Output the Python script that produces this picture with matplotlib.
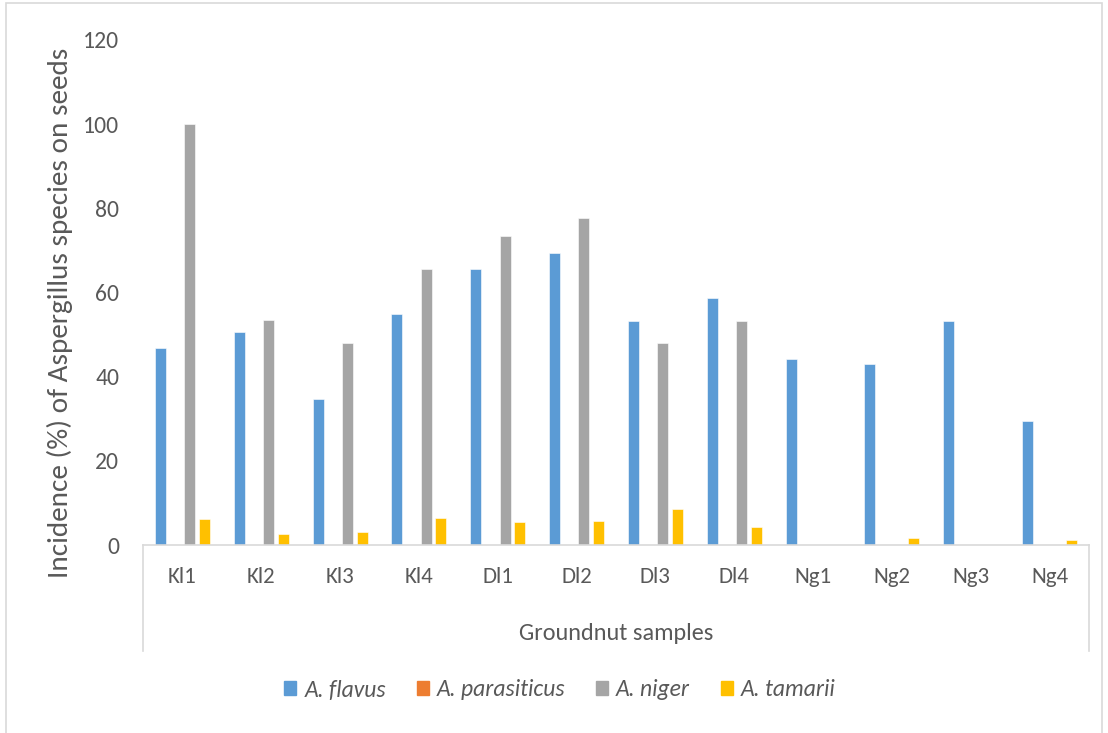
import numpy as np
import matplotlib
matplotlib.use("Agg")
import matplotlib.pyplot as plt
from matplotlib import font_manager
from matplotlib.lines import Line2D
from matplotlib.patches import Rectangle

# pick a Calibri-like family if available
available = {f.name for f in font_manager.fontManager.ttflist}
family = "DejaVu Sans"
for cand in ["Carlito", "Liberation Sans Narrow", "Lato", "Open Sans", "Liberation Sans"]:
    if cand in available:
        family = cand
        break
plt.rcParams["font.family"] = [family, "DejaVu Sans"]

samples = ["Kl1", "Kl2", "Kl3", "Kl4", "Dl1", "Dl2", "Dl3", "Dl4", "Ng1", "Ng2", "Ng3", "Ng4"]
a_flavus = [46.7, 50.7, 34.7, 55.0, 65.5, 69.4, 53.3, 58.7, 44.3, 43.0, 53.3, 29.5]
a_parasiticus = [0, 0, 0, 0, 0, 0, 0, 0, 0, 0, 0, 0]
a_niger = [100.0, 53.5, 48.0, 65.5, 73.5, 77.6, 48.0, 53.3, 0, 0, 0, 0]
a_tamarii = [6.1, 2.6, 3.2, 6.4, 5.4, 5.7, 8.5, 4.3, 0, 1.6, 0, 1.2]

series_names = ["A. flavus", "A. parasiticus", "A. niger", "A. tamarii"]
series_values = [a_flavus, a_parasiticus, a_niger, a_tamarii]
colors = ["#5B9BD5", "#ED7D31", "#A5A5A5", "#FFC000"]
text_color = "#595959"
line_color = "#D9D9D9"

W, H = 1108, 733
fig = plt.figure(figsize=(W / 100, H / 100), dpi=100)

ax_left, ax_right = 143, 1089
ax_top, ax_bottom = 40, 545
ax = fig.add_axes([ax_left / W, 1 - ax_bottom / H, (ax_right - ax_left) / W, (ax_bottom - ax_top) / H])

x = np.arange(len(samples))
slot = 0.186
width = 0.14
for i, (vals, col) in enumerate(zip(series_values, colors)):
    ax.bar(x + (i - 1.5) * slot, vals, width=width, color=col,
           edgecolor="white", linewidth=0.4, zorder=2)

ax.set_xlim(-0.5, len(samples) - 0.5)
ax.set_ylim(0, 120)
ax.set_yticks(np.arange(0, 121, 20))
ax.tick_params(axis="y", length=0, pad=17, labelsize=17, labelcolor=text_color)
ax.set_xticks([])
for s in ["top", "right", "left"]:
    ax.spines[s].set_visible(False)
ax.spines["bottom"].set_color(line_color)
ax.spines["bottom"].set_linewidth(1.2)

# category labels inside the box below the axis
for xi, lab in zip(x, samples):
    xf = ax_left + (xi + 0.5) * (ax_right - ax_left) / len(samples)
    fig.text(xf / W, 1 - 577 / H, lab, ha="center", va="center",
             fontsize=16.5, color=text_color)
fig.text((ax_left + ax_right) / 2 / W, 1 - 633 / H, "Groundnut samples",
         ha="center", va="center", fontsize=17.5, color=text_color)

# box edges of the category area
for xb in (ax_left, ax_right):
    fig.add_artist(Line2D([xb / W, xb / W], [1 - ax_bottom / H, 1 - 651 / H],
                          color=line_color, linewidth=1.2))

fig.text(60 / W, 1 - 313 / H, "Incidence (%) of Aspergillus species on seeds",
         rotation=90, ha="center", va="center", fontsize=21, color=text_color)

# outer frame
fig.add_artist(Rectangle((6 / W, -0.01), (W - 12) / W, 1 - 3 / H + 0.01,
                         transform=fig.transFigure, fill=False,
                         edgecolor=line_color, linewidth=1.2))

handles = [Rectangle((0, 0), 1, 1, color=c) for c in colors]
leg = fig.legend(handles, series_names, loc="center", bbox_to_anchor=(560 / W, 1 - 690 / H),
                 ncol=4, frameon=False, handlelength=0.5, handleheight=0.5,
                 handletextpad=0.35, columnspacing=1.3,
                 prop={"size": 17, "style": "italic"})
for t in leg.get_texts():
    t.set_color(text_color)

fig.savefig("out.png", dpi=100)
